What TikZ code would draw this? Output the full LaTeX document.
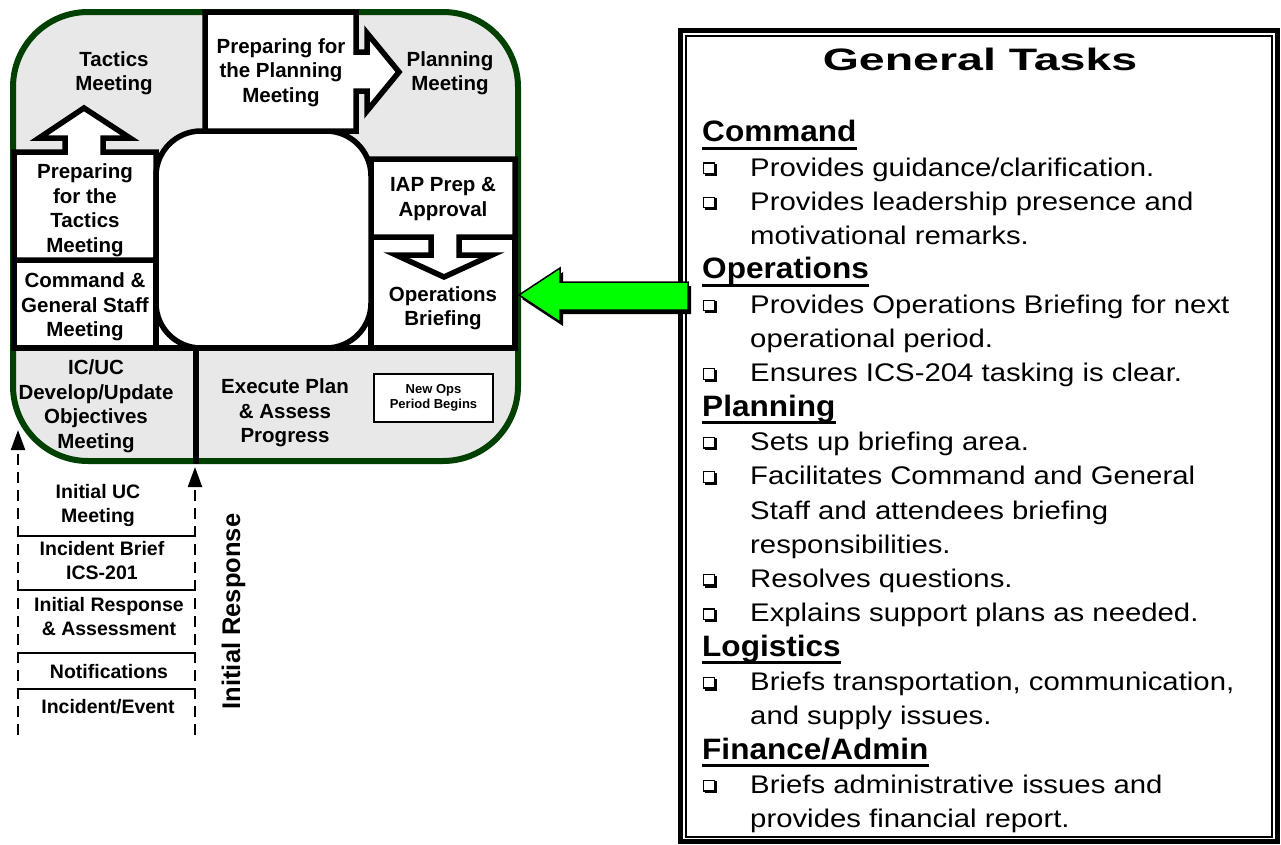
\documentclass[tikz,border=0pt]{standalone}
\usepackage{fontspec}
\setmainfont{Liberation Sans}
\newfontfamily\bodyfont[FakeStretch=1.15]{Liberation Sans}
\newfontfamily\headfont[FakeStretch=1.07]{Liberation Sans}
\newfontfamily\titlefont[FakeStretch=1.5]{Liberation Sans}
\usetikzlibrary{arrows.meta}
\definecolor{panelgray}{RGB}{232,232,232}
\definecolor{rimgreen}{RGB}{0,64,0}
\definecolor{arrowgreen}{RGB}{0,255,0}
\begin{document}
\begin{tikzpicture}[x=1pt,y=-1pt,
  box/.style={fill=white,draw=black,line width=5.5pt,line join=miter},
  lbl/.style={align=center,inner sep=0pt,font=\bfseries\fontsize{20.5}{24.5}\selectfont},
  stk/.style={align=center,inner sep=0pt,font=\bfseries\fontsize{19.5}{24}\selectfont},
  body/.style={anchor=base west,inner sep=0pt,font=\bodyfont\fontsize{25.5}{30}\selectfont},
  head/.style={anchor=base west,inner sep=0pt,font=\headfont\bfseries\fontsize{29.5}{34}\selectfont},
  uline/.style={line width=3.2pt},
  dashline/.style={line width=2.2pt,dash pattern=on 11pt off 7pt},
  divline/.style={line width=2.5pt},
  arrowtip/.style={-{Triangle[length=20pt,width=14pt]}}
]
\useasboundingbox (0,0) rectangle (1281,844);
\fill[white] (0,0) rectangle (1281,844);

% ---------- cycle panel ----------
\filldraw[fill=panelgray,draw=rimgreen,line width=6pt,rounded corners=75pt] (13,12) rectangle (518,461);
\fill[white] (156,290) rectangle (371,348);

% Command & General Staff box
\filldraw[box] (14,260) rectangle (156,348);
% Operations Briefing box
\filldraw[box] (371,237) rectangle (515,348);
% Preparing for the Tactics Meeting box with up arrow
\filldraw[box] (14,152) -- (65,152) -- (65,138) -- (39,138) -- (84,108) -- (130,138) -- (103,138) -- (103,152) -- (156,152) -- (156,260) -- (14,260) -- cycle;
% IAP box with down arrow
\filldraw[box] (371,159) -- (515,159) -- (515,237) -- (459,237) -- (459,255) -- (492,255) -- (444,277) -- (396,255) -- (431,255) -- (431,237) -- (371,237) -- cycle;
% centre rounded box
\filldraw[box,rounded corners=45pt] (156,131) rectangle (371,348);
% Preparing for the Planning Meeting box with right arrow
\filldraw[box] (205,12) -- (356,12) -- (356,52) -- (367,52) -- (367,33) -- (399,72) -- (367,111) -- (367,91) -- (356,91) -- (356,131) -- (205,131) -- cycle;
% dividing lines
\draw[line width=5.5pt] (14,348) -- (515,348);
\draw[line width=6pt] (196,348) -- (196,464);
% New Ops box
\filldraw[fill=white,draw=black,line width=2.5pt] (374,374) rectangle (493,422);

\node[lbl] (tactics) at (114,73) {Tactics\\Meeting};
\node[lbl] (prepplan) at (281,72.5) {Preparing for\\the Planning\\Meeting};
\node[lbl] (planning) at (450,73) {Planning\\Meeting};
\node[lbl] (preptac) at (85,210) {Preparing\\for the\\Tactics\\Meeting};
\node[lbl] (cgs) at (85,307) {Command \&\\General Staff\\Meeting};
\node[lbl] (iap) at (443,199) {IAP Prep \&\\Approval};
\node[lbl] (ops) at (443,308) {Operations\\Briefing};
\node[lbl] (icuc) at (96,406) {IC/UC\\Develop/Update\\Objectives\\Meeting};
\node[lbl] (exec) at (285,413) {Execute Plan\\\& Assess\\Progress};
\node[align=center,inner sep=0pt,font=\bfseries\fontsize{13}{15}\selectfont] (newops) at (433.5,398) {New Ops\\Period Begins};

% ---------- initial response stack ----------
\coordinate (lbot) at (18,735);
\coordinate (ltop) at (18,430);
\coordinate (rbot) at (195,735);
\coordinate (rtop) at (195,467);
\draw[dashline,arrowtip] (lbot) -- (ltop);
\draw[dashline,arrowtip] (rbot) -- (rtop);
\draw[divline] (18,536) -- (195,536);
\draw[divline] (18,590) -- (195,590);
\draw[divline] (18,653) -- (195,653);
\draw[divline] (18,689) -- (195,689);
\node[stk] (iucm) at (98,505) {Initial UC\\Meeting};
\node[stk] (ibrief) at (102,561) {Incident Brief\\ICS-201};
\node[stk] (iresp) at (109,617) {Initial Response\\\& Assessment};
\node[stk] (notif) at (109,671.5) {Notifications};
\node[stk] (ievent) at (108,706.5) {Incident/Event};
\node[rotate=90,inner sep=0pt,font=\bfseries\fontsize{25.5}{30}\selectfont] (irlabel) at (233.5,611.5) {Initial Response};

% ---------- General Tasks frame ----------
\draw[line width=5pt] (680,30) rectangle (1277.5,841.5);
\draw[line width=2pt] (686,36) rectangle (1271.5,836.5);
\node[anchor=base,inner sep=0pt,font=\titlefont\bfseries\fontsize{31}{36}\selectfont] (title) at (980,70) {General Tasks};

\node[head] (hcmd) at (702,141.7) {Command};
\node[head] (hops) at (702,278.9) {Operations};
\node[head] (hplan) at (702,416.1) {Planning};
\node[head] (hlog) at (702,656.2) {Logistics};
\node[head] (hfin) at (702,759.1) {Finance/Admin};
\foreach \h in {hcmd,hops,hplan,hlog,hfin}
  \draw[uline] ([yshift=-6.6pt]\h.base west) -- ([yshift=-6.6pt]\h.base east);

\node[body] (t1) at (750,176.0) {Provides guidance/clarification.};
\node[body] (t2) at (750,210.3) {Provides leadership presence and};
\node[body] (t3) at (750,244.6) {motivational remarks.};
\node[body] (t5) at (750,313.2) {Provides Operations Briefing for next};
\node[body] (t6) at (750,347.5) {operational period.};
\node[body] (t7) at (750,381.8) {Ensures ICS-204 tasking is clear.};
\node[body] (t9) at (750,450.4) {Sets up briefing area.};
\node[body] (t10) at (750,484.7) {Facilitates Command and General};
\node[body] (t11) at (750,519.0) {Staff and attendees briefing};
\node[body] (t12) at (750,553.3) {responsibilities.};
\node[body] (t13) at (750,587.6) {Resolves questions.};
\node[body] (t14) at (750,621.9) {Explains support plans as needed.};
\node[body] (t16) at (750,690.5) {Briefs transportation, communication,};
\node[body] (t17) at (750,724.8) {and supply issues.};
\node[body] (t19) at (750,793.4) {Briefs administrative issues and};
\node[body] (t20) at (750,827.7) {provides financial report.};

\foreach \b in {176.0,210.3,313.2,381.8,450.4,484.7,587.6,621.9,690.5,793.4}{
  \filldraw[fill=white,draw=black,line width=1.3pt] (703.8,\b-13) rectangle (714.5,\b-2.5);
  \draw[line width=2.6pt,line join=miter] (704.5,\b-1.3) -- (715.8,\b-1.3) -- (715.8,\b-12);
}

% ---------- green arrow ----------
\fill[black,shift={(3,4)}] (688,282) -- (560,282) -- (560,268) -- (519,295) -- (560,322) -- (560,310) -- (688,310) -- cycle;
\filldraw[fill=arrowgreen,draw=black,line width=1.5pt,line join=miter] (688,282) -- (560,282) -- (560,268) -- (519,295) -- (560,322) -- (560,310) -- (688,310) -- cycle;
\end{tikzpicture}
\end{document}
